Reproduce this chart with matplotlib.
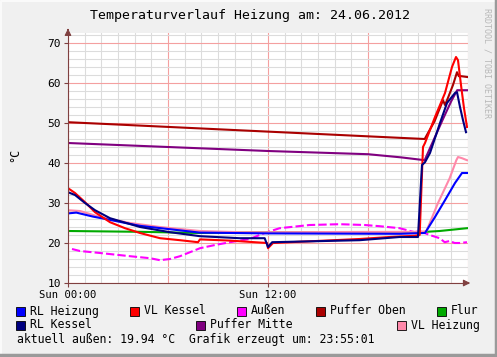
import matplotlib
matplotlib.use("Agg")
import matplotlib.pyplot as plt
from matplotlib.patches import Rectangle

# --- data (hours since Sun 00:00, temperature in °C) ---
oben_t = [0, 21.4, 22.0, 22.5, 22.62, 22.8, 23.1, 23.34, 23.45, 23.6, 23.95]
oben_v = [50.2, 46.0, 50.5, 55.7, 54.5, 56.3, 59.5, 62.7, 61.7, 61.7, 61.5]

mitte_t = [0, 12, 18, 20.0, 21.4, 21.75, 22.5, 23.0, 23.35, 23.95]
mitte_v = [45.0, 43.0, 42.2, 41.4, 40.7, 44.0, 51.0, 55.5, 58.2, 58.2]

vlk_t = [0, 0.42, 1.02, 1.62, 2.52, 3.42, 4.32, 5.52, 6.72, 7.8, 7.92, 9.72, 11.94,
         12.0, 12.3, 17.5, 19.3, 20.8, 21.1, 21.3, 21.42, 22.02, 22.62, 23.04, 23.28,
         23.4, 23.58, 23.76, 23.94]
vlk_v = [33.7, 32.5, 30.2, 27.7, 25.2, 23.7, 22.5, 21.2, 20.7, 20.2, 20.9, 20.6, 20.0,
         18.7, 20.0, 21.0, 21.5, 21.8, 22.0, 44.0, 45.0, 51.5, 57.5, 64.0, 66.5,
         65.7, 59.5, 53.7, 49.0]

rlk_t = [0, 0.42, 1.02, 1.62, 2.52, 4.32, 6.12, 7.92, 10.3, 11.8, 12.0, 12.25, 17.5,
         19.9, 21.0, 21.12, 21.24, 21.42, 21.72, 22.32, 22.74, 23.22, 23.34, 23.52,
         23.7, 23.88]
rlk_v = [32.7, 32.0, 30.0, 28.2, 26.2, 24.0, 22.7, 21.7, 21.2, 21.2, 19.0, 20.2, 20.7,
         21.5, 21.5, 30.7, 39.5, 40.2, 42.5, 50.0, 55.0, 57.5, 57.7, 54.0,
         50.7, 47.7]

rlh_t = [0, 0.5, 1.5, 2.0, 4.3, 7.9, 12, 19.9, 21.42, 22.02, 22.62, 23.22, 23.64, 23.94]
rlh_v = [27.4, 27.6, 26.6, 26.2, 24.3, 22.6, 22.4, 22.3, 22.5, 26.5, 30.7, 35.0, 37.5, 37.5]

vlh_t = [0, 0.72, 1.92, 3.72, 5.52, 7.92, 10.3, 12, 21.1, 21.5, 22.2, 22.9, 23.3,
         23.4, 23.64, 23.94]
vlh_v = [28.2, 28.0, 26.5, 25.0, 24.0, 23.0, 22.7, 22.7, 22.8, 22.9, 30.0, 36.2, 40.7,
         41.5, 41.2, 40.7]

flur_t = [0, 4.3, 7.9, 12, 21.1, 22.3, 23.94]
flur_v = [23.0, 22.8, 22.5, 22.7, 22.7, 23.0, 23.7]

aussen_t = [0.24, 0.72, 1.92, 3.72, 4.92, 5.52, 6.12, 6.72, 7.32, 7.92, 8.82, 9.72,
            10.9, 11.8, 12.7, 14.5, 16.3, 17.8, 18.7, 19.9, 20.8, 21.1, 21.7, 22.3,
            22.6, 22.9, 23.2, 23.5, 23.94]
aussen_v = [18.5, 18.0, 17.5, 16.7, 16.2, 15.7, 16.0, 16.7, 17.7, 18.7, 19.5, 20.2,
            21.0, 22.5, 23.7, 24.5, 24.7, 24.5, 24.2, 23.7, 22.7, 23.0, 22.0, 21.2,
            20.2, 20.5, 20.0, 20.0, 20.2]

mono = "DejaVu Sans Mono"
W, H = 497, 357

fig = plt.figure(figsize=(W / 100, H / 100), dpi=100, facecolor="#f0f0f0")
ax = fig.add_axes([68 / W, 1 - 283 / H, 400 / W, 250 / H])
ax.set_facecolor("white")

# grid like rrdtool
for h in range(25):
    c = "#f4a0a0" if h % 6 == 0 else "#dcdcdc"
    ax.axvline(h, color=c, lw=0.8, zorder=0)
for y in range(10, 73, 2):
    c = "#f4a0a0" if y % 10 == 0 else "#dcdcdc"
    ax.axhline(y, color=c, lw=0.8, zorder=0)

lw = 1.5
ax.plot(aussen_t, aussen_v, color="#ff00ff", lw=lw, ls=(0, (4, 1.5)))
ax.plot(flur_t, flur_v, color="#00aa00", lw=lw)
ax.plot(vlh_t, vlh_v, color="#ff88aa", lw=lw)
ax.plot(rlh_t, rlh_v, color="#0000ff", lw=lw)
ax.plot(oben_t, oben_v, color="#aa0000", lw=lw)
ax.plot(mitte_t, mitte_v, color="#800080", lw=lw)
ax.plot(vlk_t, vlk_v, color="#ff0000", lw=lw)
ax.plot(rlk_t, rlk_v, color="#000080", lw=lw)

ax.set_xlim(0, 24)
ax.set_ylim(10, 72.5)
for s in ["top", "right"]:
    ax.spines[s].set_visible(False)
for s in ["left", "bottom"]:
    ax.spines[s].set_color("#804040")
ax.set_xticks([0, 12])
ax.set_xticklabels(["Sun 00:00", "Sun 12:00"], fontfamily=mono, fontsize=7.6)
ax.set_yticks(range(10, 71, 10))
ax.set_yticklabels([str(v) for v in range(10, 71, 10)], fontfamily=mono, fontsize=8)
ax.tick_params(axis="both", length=3, color="#804040", pad=2)

# axis arrows
ax.annotate("", xy=(24.3, 10), xytext=(23.8, 10), xycoords="data",
            arrowprops=dict(arrowstyle="-|>", color="#804040", lw=0.8), annotation_clip=False)
ax.annotate("", xy=(0, 73.6), xytext=(0, 72.5), xycoords="data",
            arrowprops=dict(arrowstyle="-|>", color="#804040", lw=0.8), annotation_clip=False)

fig.text(250 / W, 1 - 16 / H, "Temperaturverlauf Heizung am: 24.06.2012",
         ha="center", va="center", fontfamily=mono, fontsize=9.5)
fig.text(15 / W, 1 - 155 / H, "°C", rotation=90, ha="center", va="center",
         fontfamily=mono, fontsize=8.5)
fig.text(487 / W, 1 - 8 / H, "RRDTOOL / TOBI OETIKER", rotation=270, ha="center",
         va="top", fontfamily=mono, fontsize=6, color="#b8b8b8")

# legend
legend = [("RL Heizung", "#0000ff", 16, 311), ("VL Kessel", "#ff0000", 130, 311),
          ("Außen", "#ff00ff", 237, 311), ("Puffer Oben", "#aa0000", 316, 311),
          ("Flur", "#00aa00", 437, 311), ("RL Kessel", "#000080", 16, 325),
          ("Puffer Mitte", "#800080", 196, 325), ("VL Heizung", "#ff88aa", 397, 325)]
for name, col, x, y in legend:
    fig.add_artist(Rectangle((x / W, 1 - (y + 4.5) / H), 9 / W, 9 / H,
                             facecolor=col, edgecolor="black", lw=0.6,
                             transform=fig.transFigure))
    fig.text((x + 14) / W, 1 - y / H, name, va="center", fontfamily=mono, fontsize=8.3)
fig.text(17 / W, 1 - 339 / H, "aktuell außen: 19.94 °C  Grafik erzeugt um: 23:55:01",
         va="center", fontfamily=mono, fontsize=8.3)

# frame
fig.add_artist(plt.Line2D([1 / W, 1 / W, 495 / W], [2 / H, 1 - 1 / H, 1 - 1 / H],
                          color="#fafafa", lw=1.5, transform=fig.transFigure))
fig.add_artist(plt.Line2D([1 / W, 495.5 / W, 495.5 / W], [2.5 / H, 2.5 / H, 1 - 1 / H],
                          color="#9a9a9a", lw=2.5, transform=fig.transFigure))

fig.savefig("out.png", dpi=100, facecolor=fig.get_facecolor())
